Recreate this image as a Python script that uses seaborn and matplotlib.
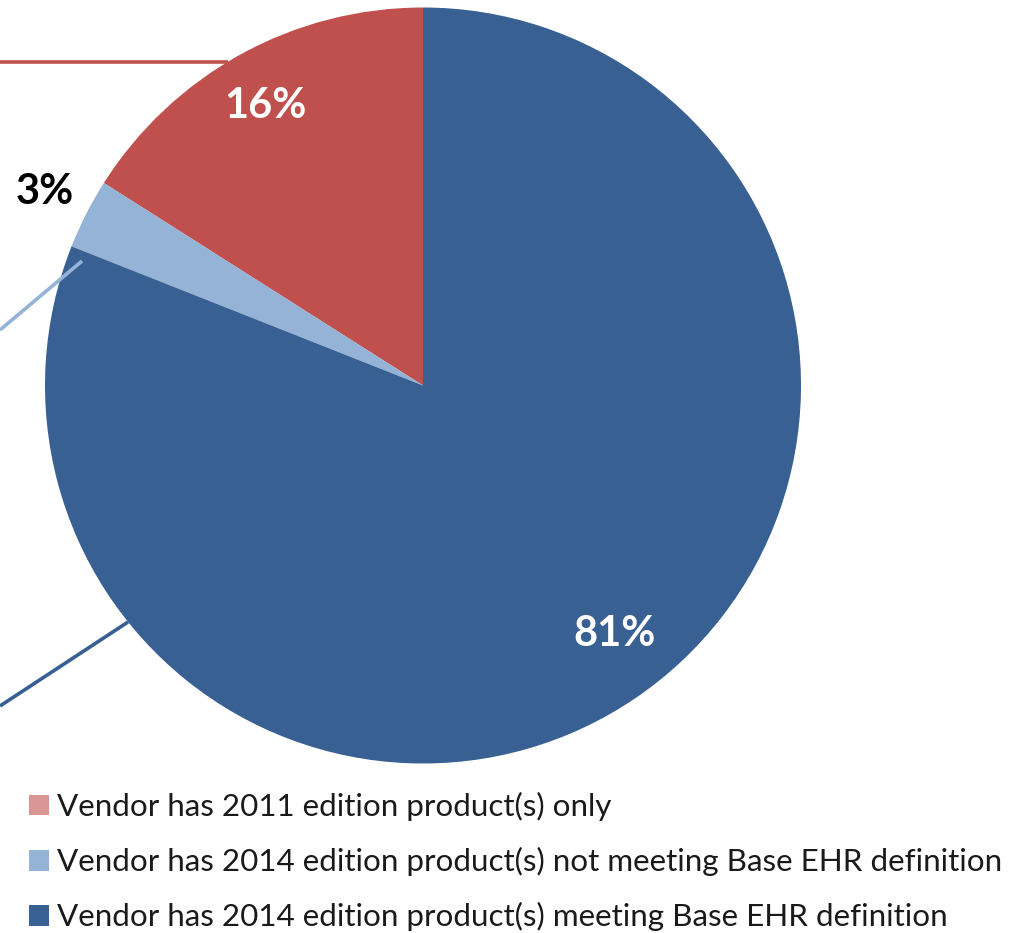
import numpy as np
import matplotlib
matplotlib.use("Agg")
import matplotlib.pyplot as plt
import matplotlib.patches as mpatches
import seaborn as sns

categories = [
    "Vendor has 2011 edition product(s) only",
    "Vendor has 2014 edition product(s) not meeting Base EHR definition",
    "Vendor has 2014 edition product(s) meeting Base EHR definition",
]
values = [16, 3, 81]
pct_labels = ["16%", "3%", "81%"]
wedge_colors = ["#C0504D", "#95B3D7", "#386092"]
legend_colors = ["#D99694", "#95B3D7", "#386092"]
label_colors = ["white", "black", "white"]

sns.set_theme(style="white")
plt.rcParams["font.family"] = ["Lato", "DejaVu Sans"]

W, H = 1022, 933
fig = plt.figure(figsize=(W / 100, H / 100), dpi=100)
ax = fig.add_axes([0, 0, 1, 1])
ax.set_xlim(0, W)
ax.set_ylim(0, H)
ax.set_aspect("equal")
ax.axis("off")

cx, cy, r = 423, H - 385.5, 378
wedges, _ = ax.pie(values, colors=wedge_colors, startangle=90, counterclock=True,
                   center=(cx, cy), radius=r, wedgeprops=dict(linewidth=0))
ax.set_xlim(0, W)
ax.set_ylim(0, H)

# leader lines toward labels placed outside the visible area
leader_ends = [(0, H - 62, 228, H - 62), (0, H - 330, 82, H - 261), (0, H - 706, 128, H - 622)]
for (x0, y0, x1, y1), c in zip(leader_ends, wedge_colors):
    ax.plot([x0, x1], [y0, y1], color=c, lw=2.6, solid_capstyle="butt", zorder=3)

label_pos = [(265, H - 106), (45, H - 192), (615, H - 634)]
for (x, y), t, c in zip(label_pos, pct_labels, label_colors):
    ax.text(x, y, t, color=c, fontsize=30, fontweight="bold", ha="center", va="center", zorder=4)

handles = [mpatches.Patch(facecolor=c, edgecolor="none") for c in legend_colors]
leg = fig.legend(handles, categories, loc="upper left", bbox_to_anchor=(29 / W, 1 - 792 / H),
                 frameon=False, fontsize=22.6, handlelength=0.64, handleheight=0.64,
                 handletextpad=0.25, labelspacing=0.83, borderpad=0, borderaxespad=0)
for t in leg.get_texts():
    t.set_color("#1a1a1a")

fig.savefig("out.png", dpi=100)
